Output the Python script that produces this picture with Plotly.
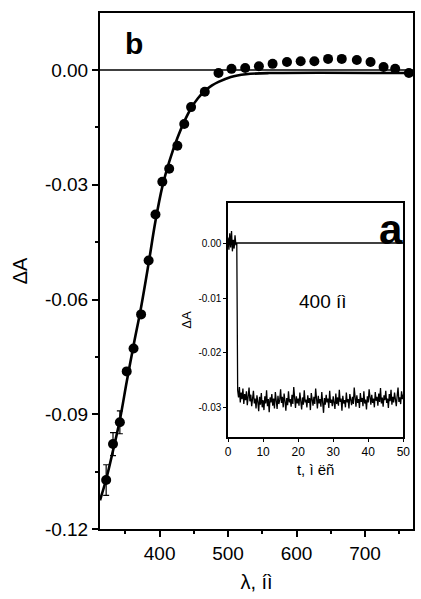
import plotly.graph_objects as go

# ---- main panel (b): spectrum ----
wavelength_nm = [322, 332, 342, 352, 362, 373, 384, 394, 404, 414, 426, 436, 446, 466,
                 486, 505, 525, 545, 565, 586, 606, 626, 646, 666, 688, 708, 727, 744, 764]
delta_A = [-0.1072, -0.0978, -0.0921, -0.0788, -0.0728, -0.0639, -0.0498, -0.0378, -0.0292,
           -0.0258, -0.0198, -0.0141, -0.0097, -0.0057, -0.0008, 0.0003, 0.0005, 0.0010,
           0.0016, 0.0021, 0.0023, 0.0023, 0.0029, 0.0029, 0.0026, 0.0021, 0.0008, 0.0003,
           -0.0008]
delta_A_err = [0.004, 0.003, 0.003] + [0.0] * 26

fit_nm = [313, 322, 332, 342, 352, 362, 373, 384, 394, 404, 414, 426, 436, 446, 456, 466,
          476, 486, 504, 526, 560, 770]
fit_A = [-0.1125, -0.1070, -0.0995, -0.0915, -0.0815, -0.0720, -0.0620, -0.0505, -0.0395,
         -0.0305, -0.0240, -0.0178, -0.0135, -0.0100, -0.0074, -0.0055, -0.0041, -0.0031,
         -0.0018, -0.0011, -0.0008, -0.0008]

main_xticks = [400, 500, 600, 700]
main_yticks = [0.00, -0.03, -0.06, -0.09, -0.12]
main_yticklabels = ["0.00", "-0.03", "-0.06", "-0.09", "-0.12"]

# ---- inset (a): kinetics at 400 nm ----
inset_dt = 0.25  # sampling interval, ms
inset_dA = [0.0010, -0.0012, 0.0018, -0.0008, 0.0022, -0.0015, 0.0006, -0.0010, 0.0014, -0.0004, 0.0000,
            -0.0268, -0.0281, -0.0262, -0.0290, -0.0272, -0.0284, -0.0265, -0.0293, -0.0275, -0.0286,
            -0.0270, -0.0295, -0.0279, -0.0263, -0.0288, -0.0276, -0.0297, -0.0281, -0.0269, -0.0292,
            -0.0283, -0.0301, -0.0277, -0.0289, -0.0306, -0.0280, -0.0294, -0.0273, -0.0299, -0.0286,
            -0.0304, -0.0279, -0.0292, -0.0268, -0.0297, -0.0284, -0.0308, -0.0281, -0.0290, -0.0275,
            -0.0296, -0.0283, -0.0301, -0.0271, -0.0289, -0.0302, -0.0278, -0.0293, -0.0285, -0.0266,
            -0.0291, -0.0280, -0.0299, -0.0274, -0.0288, -0.0305, -0.0282, -0.0295, -0.0270, -0.0290,
            -0.0284, -0.0298, -0.0276, -0.0293, -0.0262, -0.0287, -0.0300, -0.0279, -0.0292, -0.0283,
            -0.0296, -0.0272, -0.0289, -0.0303, -0.0281, -0.0294, -0.0268, -0.0290, -0.0285, -0.0299,
            -0.0277, -0.0291, -0.0282, -0.0304, -0.0273, -0.0288, -0.0296, -0.0280, -0.0293, -0.0265,
            -0.0289, -0.0301, -0.0278, -0.0292, -0.0284, -0.0298, -0.0271, -0.0287, -0.0309, -0.0282,
            -0.0294, -0.0276, -0.0290, -0.0283, -0.0300, -0.0269, -0.0291, -0.0285, -0.0297, -0.0279,
            -0.0288, -0.0302, -0.0274, -0.0293, -0.0281, -0.0296, -0.0267, -0.0289, -0.0283, -0.0305,
            -0.0278, -0.0292, -0.0286, -0.0299, -0.0272, -0.0290, -0.0284, -0.0301, -0.0275, -0.0288,
            -0.0295, -0.0280, -0.0293, -0.0263, -0.0287, -0.0298, -0.0277, -0.0291, -0.0284, -0.0300,
            -0.0273, -0.0289, -0.0282, -0.0297, -0.0270, -0.0292, -0.0285, -0.0303, -0.0279, -0.0290,
            -0.0266, -0.0288, -0.0294, -0.0276, -0.0291, -0.0283, -0.0299, -0.0271, -0.0287, -0.0280,
            -0.0296, -0.0274, -0.0289, -0.0264, -0.0292, -0.0281, -0.0298, -0.0277, -0.0286, -0.0269,
            -0.0291, -0.0283, -0.0300, -0.0275, -0.0288, -0.0267, -0.0294, -0.0280, -0.0290, -0.0272,
            -0.0286, -0.0297, -0.0278, -0.0263, -0.0289, -0.0281, -0.0293, -0.0270, -0.0284, -0.0276]
inset_t = [round(i * inset_dt, 2) for i in range(len(inset_dA))]
inset_xticks = [0, 10, 20, 30, 40, 50]
inset_yticks = [0.00, -0.01, -0.02, -0.03]
inset_yticklabels = ["0.00", "-0.01", "-0.02", "-0.03"]

FONT = "Arial, Liberation Sans, sans-serif"

fig = go.Figure()
fig.add_trace(go.Scatter(x=fit_nm, y=fit_A, mode="lines", line=dict(color="black", width=2.6, shape="spline"),
                         xaxis="x", yaxis="y", showlegend=False))
fig.add_trace(go.Scatter(x=wavelength_nm, y=delta_A, mode="markers",
                         marker=dict(color="black", size=10),
                         error_y=dict(type="data", array=delta_A_err, color="black", thickness=1.2, width=3),
                         xaxis="x", yaxis="y", showlegend=False))
fig.add_trace(go.Scatter(x=inset_t, y=inset_dA, mode="lines", line=dict(color="black", width=1.3),
                         xaxis="x2", yaxis="y2", showlegend=False))

axis_common = dict(showline=True, linecolor="black", mirror=True, showgrid=False, zeroline=False,
                   ticks="outside", tickcolor="black")

fig.update_layout(
    width=421, height=599,
    margin=dict(l=100, r=1, t=13, b=70),
    paper_bgcolor="white", plot_bgcolor="white",
    font=dict(family=FONT, color="black"),
    xaxis=dict(axis_common, domain=[0, 1], range=[313, 770], tickvals=main_xticks, linewidth=2,
               ticklen=6, tickwidth=1.5, tickfont=dict(size=19),
               minor=dict(dtick=50, tick0=300, ticks="outside", ticklen=3, tickcolor="black"),
               title=dict(text="λ, íì", font=dict(size=20), standoff=12)),
    yaxis=dict(axis_common, domain=[0, 1], range=[-0.12, 0.0149], tickvals=main_yticks,
               ticktext=main_yticklabels, linewidth=2, ticklen=6, tickwidth=1.5, tickfont=dict(size=19),
               minor=dict(dtick=0.015, tick0=0, ticks="outside", ticklen=3, tickcolor="black"),
               title=dict(text="ΔA", font=dict(size=20), standoff=12)),
    xaxis2=dict(axis_common, domain=[0.409, 0.969], range=[0, 50], anchor="y2", tickvals=inset_xticks,
                linewidth=1.5, ticklen=3, tickfont=dict(size=12),
                title=dict(text="t, ì ëñ", font=dict(size=15), standoff=6)),
    yaxis2=dict(axis_common, domain=[0.1783, 0.6318], range=[-0.0353, 0.0073], anchor="x2",
                tickvals=inset_yticks, ticktext=inset_yticklabels, linewidth=1.5, ticklen=3,
                tickfont=dict(size=10),
                title=dict(text="ΔA", font=dict(size=13), standoff=4)),
    shapes=[
        dict(type="line", xref="x domain", yref="y", x0=0, x1=1, y0=0, y1=0,
             line=dict(color="black", width=1.5)),
        dict(type="line", xref="x2 domain", yref="y2", x0=0, x1=1, y0=0, y1=0,
             line=dict(color="black", width=1.5)),
    ],
    annotations=[
        dict(text="<b>b</b>", xref="x domain", yref="y domain", x=0.11, y=0.94, showarrow=False,
             font=dict(size=30), xanchor="center", yanchor="middle"),
        dict(text="<b>a</b>", xref="x2 domain", yref="y2 domain", x=0.93, y=0.885, showarrow=False,
             font=dict(size=42), xanchor="center", yanchor="middle"),
        dict(text="400 íì", xref="x2 domain", yref="y2 domain", x=0.54, y=0.58, showarrow=False,
             font=dict(size=19), xanchor="center", yanchor="middle"),
    ],
)

fig.write_html("out.html")
